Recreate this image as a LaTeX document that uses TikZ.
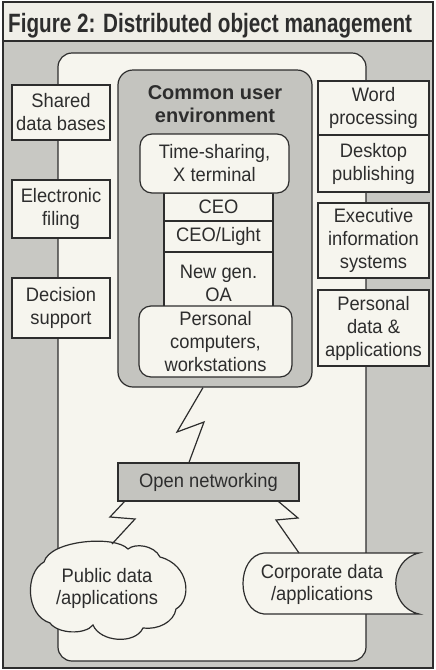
\documentclass[tikz,border=0pt]{standalone}
\usepackage{fontspec}
\setmainfont{Liberation Sans}[FakeStretch=0.94]
\newfontfamily\titlefont{Liberation Sans}[FakeStretch=0.78]
\newfontfamily\cuefont{Liberation Sans}
\usetikzlibrary{calc}
\definecolor{bggray}{RGB}{200,200,195}
\definecolor{boxgray}{RGB}{196,196,191}
\definecolor{cream}{RGB}{246,245,238}
\definecolor{titlecream}{RGB}{240,239,232}
\definecolor{ink}{RGB}{45,45,45}
\tikzset{
  boxstyle/.style={draw=ink, fill=cream, line width=1.2pt, align=center, inner sep=0pt,
    text=ink, font=\fontsize{19.5}{23}\selectfont},
  rboxstyle/.style={boxstyle, rounded corners=12pt},
  conn/.style={draw=ink, line width=1.2pt, line join=miter},
}
\begin{document}
\begin{tikzpicture}[x=1pt,y=-1pt]
\useasboundingbox (0,0) rectangle (436,670);
% background
\fill[titlecream] (3,2) rectangle (433,41);
\fill[bggray] (3,41) rectangle (433,668);
\draw[ink, line width=2.5pt] (3,41) -- (433,41);
\draw[ink, line width=2.5pt] (3,2) rectangle (433,668);
\node[anchor=base west, inner sep=0pt, text=ink,
  font=\titlefont\bfseries\fontsize{26.5}{30}\selectfont] (title) at (8,32)
  {Figure 2: Distributed object management};
% large environment area
\node[draw=ink, fill=cream, line width=1.2pt, rounded corners=14pt,
  minimum width=308pt, minimum height=608pt] (env) at (212,357) {};
% left column
\node[boxstyle, minimum width=98pt, minimum height=55pt] (sdb) at (61,112.5) {Shared\\data bases};
\node[boxstyle, minimum width=98pt, minimum height=58pt] (ef) at (61,209) {Electronic\\filing};
\node[boxstyle, minimum width=98pt, minimum height=60pt] (ds) at (61,308) {Decision\\support};
% right column
\node[boxstyle, minimum width=111pt, minimum height=54pt] (wp) at (373.5,108) {Word\\processing};
\node[boxstyle, minimum width=111pt, minimum height=57pt] (dp) at (373.5,163.5) {Desktop\\publishing};
\node[boxstyle, minimum width=111pt, minimum height=75pt] (eis) at (373.5,240.5) {Executive\\information\\systems};
\node[boxstyle, minimum width=111pt, minimum height=76pt] (pda) at (373.5,328) {Personal\\data \&\\applications};
% common user environment
\node[draw=ink, fill=boxgray, line width=1.2pt, rounded corners=15pt,
  minimum width=194pt, minimum height=317pt] (cue) at (215,228.5) {};
\node[align=center, inner sep=0pt, text=ink,
  font=\cuefont\bfseries\fontsize{20}{23}\selectfont] (cuetitle) at (215,104)
  {Common user\\environment};
\node[boxstyle, minimum width=109pt, minimum height=62pt] (nga) at (218.5,283) {New gen.\\OA};
\node[boxstyle, minimum width=109pt, minimum height=31pt] (ceol) at (218.5,236.5) {CEO/Light};
\node[boxstyle, minimum width=109pt, minimum height=28pt] (ceo) at (218.5,207) {CEO};
\node[rboxstyle, minimum width=149pt, minimum height=59pt] (ts) at (214.5,163.5) {Time-sharing,\\X terminal};
\node[rboxstyle, minimum width=153pt, minimum height=71pt] (pc) at (215.5,341.5) {Personal\\computers,\\workstations};
% open networking
\node[boxstyle, fill=boxgray, minimum width=181pt, minimum height=38pt] (onet) at (208.5,482) {Open networking};
% public data cloud
\draw[ink, fill=cream, line width=1.2pt]
  (44,562) .. controls (50,540) and (115,535) .. (128,549)
  .. controls (135,543) and (154,545) .. (160,557)
  .. controls (190,565) and (192,600) .. (176,609)
  .. controls (174,622) and (158,630) .. (143,628)
  .. controls (135,645) and (100,642) .. (93,625)
  .. controls (85,635) and (58,634) .. (50,623)
  .. controls (25,615) and (25,572) .. (44,562) -- cycle;
\node[align=center, inner sep=0pt, text=ink, font=\fontsize{19.5}{22}\selectfont] (pub) at (107,588)
  {Public data\\/applications};
\coordinate (pubtop) at (112,544);
% corporate data (stored data symbol)
\draw[ink, fill=cream, line width=1.2pt]
  (264,553) -- (419,553) .. controls (388,560) and (388,607) .. (419,614)
  -- (264,614) .. controls (236,611) and (236,556) .. (264,553) -- cycle;
\node[align=center, inner sep=0pt, text=ink, font=\fontsize{19.5}{22}\selectfont] (corp) at (322,584)
  {Corporate data\\/applications};
\coordinate (corptop) at (299,553);
% lightning connectors
\draw[conn] ($(cue.south)+(-12,0)$) -- (177,432) -- (204,422) -- ($(onet.north)+(-19.5,0)$);
\draw[conn] ($(onet.south west)+(7,0)$) -- (110,517) -- (135,519) -- (pubtop);
\draw[conn] ($(onet.south east)+(-21,0)$) -- (298,518) -- (276,520) -- (corptop);
\end{tikzpicture}
\end{document}
